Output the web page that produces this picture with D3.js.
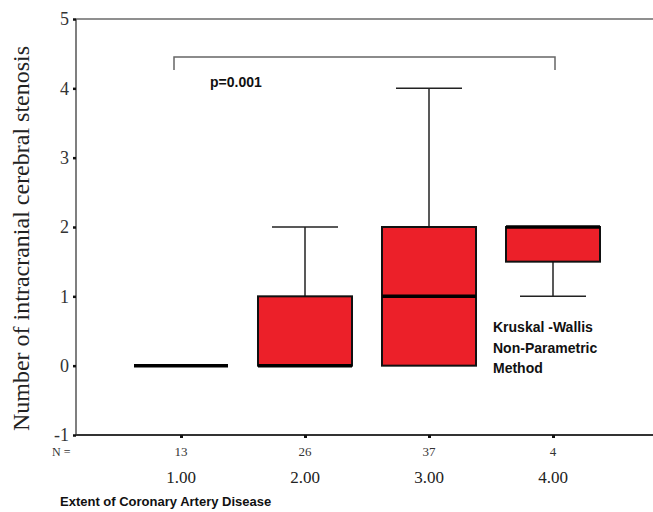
<!DOCTYPE html>
<html>
<head>
<meta charset="utf-8">
<script src="https://cdn.jsdelivr.net/npm/d3@7"></script>
<style>
  body { margin: 0; background: #fff; }
  svg { display: block; }
</style>
</head>
<body>
<svg id="chart"></svg>
<script>
// data
var categories = ["1.00", "2.00", "3.00", "4.00"];
var nCounts = [13, 26, 37, 4];
var whiskerLow = [0, 0, 0, 1];
var q1 = [0, 0, 0, 1.5];
var median = [0, 0, 1, 2];
var q3 = [0, 1, 2, 2];
var whiskerHigh = [0, 2, 4, 2];
var yTicks = [-1, 0, 1, 2, 3, 4, 5];

var width = 653, height = 512;
var plotLeft = 76, plotTop = 19, plotBottom = 435;
var boxW = 94, capW = 66;

var svg = d3.select("#chart").attr("width", width).attr("height", height);

var x = d3.scalePoint().domain(categories).range([181, 553]);
var y = d3.scaleLinear().domain([-1, 5]).range([plotBottom, plotTop]);

var boxes = categories.map(function (c, i) {
  return { cat: c, n: nCounts[i], lo: whiskerLow[i], q1: q1[i], med: median[i], q3: q3[i], hi: whiskerHigh[i] };
});

// top frame line
svg.append("line")
  .attr("x1", plotLeft).attr("x2", width).attr("y1", y(5)).attr("y2", y(5))
  .attr("stroke", "#6a6a6a").attr("stroke-width", 1.5);

var yAxis = svg.append("g")
  .attr("transform", "translate(" + plotLeft + ",0)")
  .call(d3.axisLeft(y).tickValues(yTicks).tickSize(3).tickFormat(function (d) { return String(d); }));
yAxis.select(".domain").attr("stroke", "#555").attr("stroke-width", 1.5)
  .attr("d", "M0," + plotTop + "V" + plotBottom);
yAxis.selectAll(".tick line").attr("stroke", "#111").attr("stroke-width", 2.5);
yAxis.selectAll(".tick text")
  .attr("x", -7)
  .style("font-family", "'Liberation Serif', 'DejaVu Serif', serif")
  .style("font-size", "18px")
  .attr("fill", "#333");

var xAxis = svg.append("g")
  .attr("transform", "translate(0," + plotBottom + ")")
  .call(d3.axisBottom(x).tickSize(3).tickFormat(""));
xAxis.select(".domain").attr("stroke", "#333").attr("stroke-width", 2)
  .attr("d", "M" + plotLeft + ",0H" + width);
xAxis.selectAll(".tick line").attr("stroke", "#111").attr("stroke-width", 3);

// N labels
svg.append("text")
  .attr("x", 52).attr("y", 456)
  .style("font-family", "'Liberation Serif', serif").style("font-size", "12px")
  .attr("fill", "#333").text("N =");
svg.selectAll(".nlab").data(boxes).enter().append("text")
  .attr("class", "nlab")
  .attr("x", function (d) { return x(d.cat); }).attr("y", 456)
  .attr("text-anchor", "middle")
  .style("font-family", "'Liberation Serif', serif").style("font-size", "13px")
  .attr("fill", "#333").text(function (d) { return d.n; });

// category labels
svg.selectAll(".clab").data(boxes).enter().append("text")
  .attr("class", "clab")
  .attr("x", function (d) { return x(d.cat); }).attr("y", 483)
  .attr("text-anchor", "middle")
  .style("font-family", "'Liberation Serif', serif").style("font-size", "17px")
  .attr("fill", "#222").text(function (d) { return d.cat; });

svg.append("text")
  .attr("x", 60).attr("y", 506)
  .style("font-family", "'Liberation Sans', Arial, sans-serif").style("font-size", "13px")
  .style("font-weight", "bold").attr("fill", "#111")
  .text("Extent of Coronary Artery Disease");

// y title
svg.append("text")
  .attr("transform", "translate(29," + ((42 + 435) / 2) + ") rotate(-90)")
  .attr("text-anchor", "middle")
  .style("font-family", "'Liberation Serif', serif").style("font-size", "24px")
  .attr("fill", "#222")
  .text("Number of intracranial cerebral stenosis");

// boxes
var g = svg.selectAll(".box").data(boxes).enter().append("g").attr("class", "box");

g.filter(function (d) { return d.hi > d.q3; }).append("line")
  .attr("x1", function (d) { return x(d.cat); }).attr("x2", function (d) { return x(d.cat); })
  .attr("y1", function (d) { return y(d.q3); }).attr("y2", function (d) { return y(d.hi); })
  .attr("stroke", "#222").attr("stroke-width", 1.5);
g.filter(function (d) { return d.hi > d.q3; }).append("line")
  .attr("x1", function (d) { return x(d.cat) - capW / 2; }).attr("x2", function (d) { return x(d.cat) + capW / 2; })
  .attr("y1", function (d) { return y(d.hi); }).attr("y2", function (d) { return y(d.hi); })
  .attr("stroke", "#222").attr("stroke-width", 1.5);
g.filter(function (d) { return d.lo < d.q1; }).append("line")
  .attr("x1", function (d) { return x(d.cat); }).attr("x2", function (d) { return x(d.cat); })
  .attr("y1", function (d) { return y(d.q1); }).attr("y2", function (d) { return y(d.lo); })
  .attr("stroke", "#222").attr("stroke-width", 1.5);
g.filter(function (d) { return d.lo < d.q1; }).append("line")
  .attr("x1", function (d) { return x(d.cat) - capW / 2; }).attr("x2", function (d) { return x(d.cat) + capW / 2; })
  .attr("y1", function (d) { return y(d.lo); }).attr("y2", function (d) { return y(d.lo); })
  .attr("stroke", "#222").attr("stroke-width", 1.5);

g.filter(function (d) { return d.q3 > d.q1; }).append("rect")
  .attr("x", function (d) { return x(d.cat) - boxW / 2; })
  .attr("width", boxW)
  .attr("y", function (d) { return y(d.q3); })
  .attr("height", function (d) { return y(d.q1) - y(d.q3); })
  .attr("fill", "#ec2029").attr("stroke", "#111").attr("stroke-width", 2);

g.append("line")
  .attr("x1", function (d) { return x(d.cat) - boxW / 2; }).attr("x2", function (d) { return x(d.cat) + boxW / 2; })
  .attr("y1", function (d) { return y(d.med); }).attr("y2", function (d) { return y(d.med); })
  .attr("stroke", "#000").attr("stroke-width", 3.5);

// significance bracket
var bx1 = 174, bx2 = 555, by = 57;
svg.append("path")
  .attr("d", "M" + bx1 + "," + (by + 13) + "V" + by + "H" + bx2 + "V" + (by + 13))
  .attr("fill", "none").attr("stroke", "#666").attr("stroke-width", 1.5);
svg.append("text")
  .attr("x", 210).attr("y", 87)
  .style("font-family", "'Liberation Sans', Arial, sans-serif").style("font-size", "14px")
  .style("font-weight", "bold").attr("fill", "#111").text("p=0.001");

// method note
var note = ["Kruskal -Wallis", "Non-Parametric", "Method"];
svg.selectAll(".note").data(note).enter().append("text")
  .attr("class", "note")
  .attr("x", 493).attr("y", function (d, i) { return 332 + i * 20.5; })
  .style("font-family", "'Liberation Sans', Arial, sans-serif").style("font-size", "14px")
  .style("font-weight", "bold").attr("fill", "#111").text(function (d) { return d; });
</script>
</body>
</html>
